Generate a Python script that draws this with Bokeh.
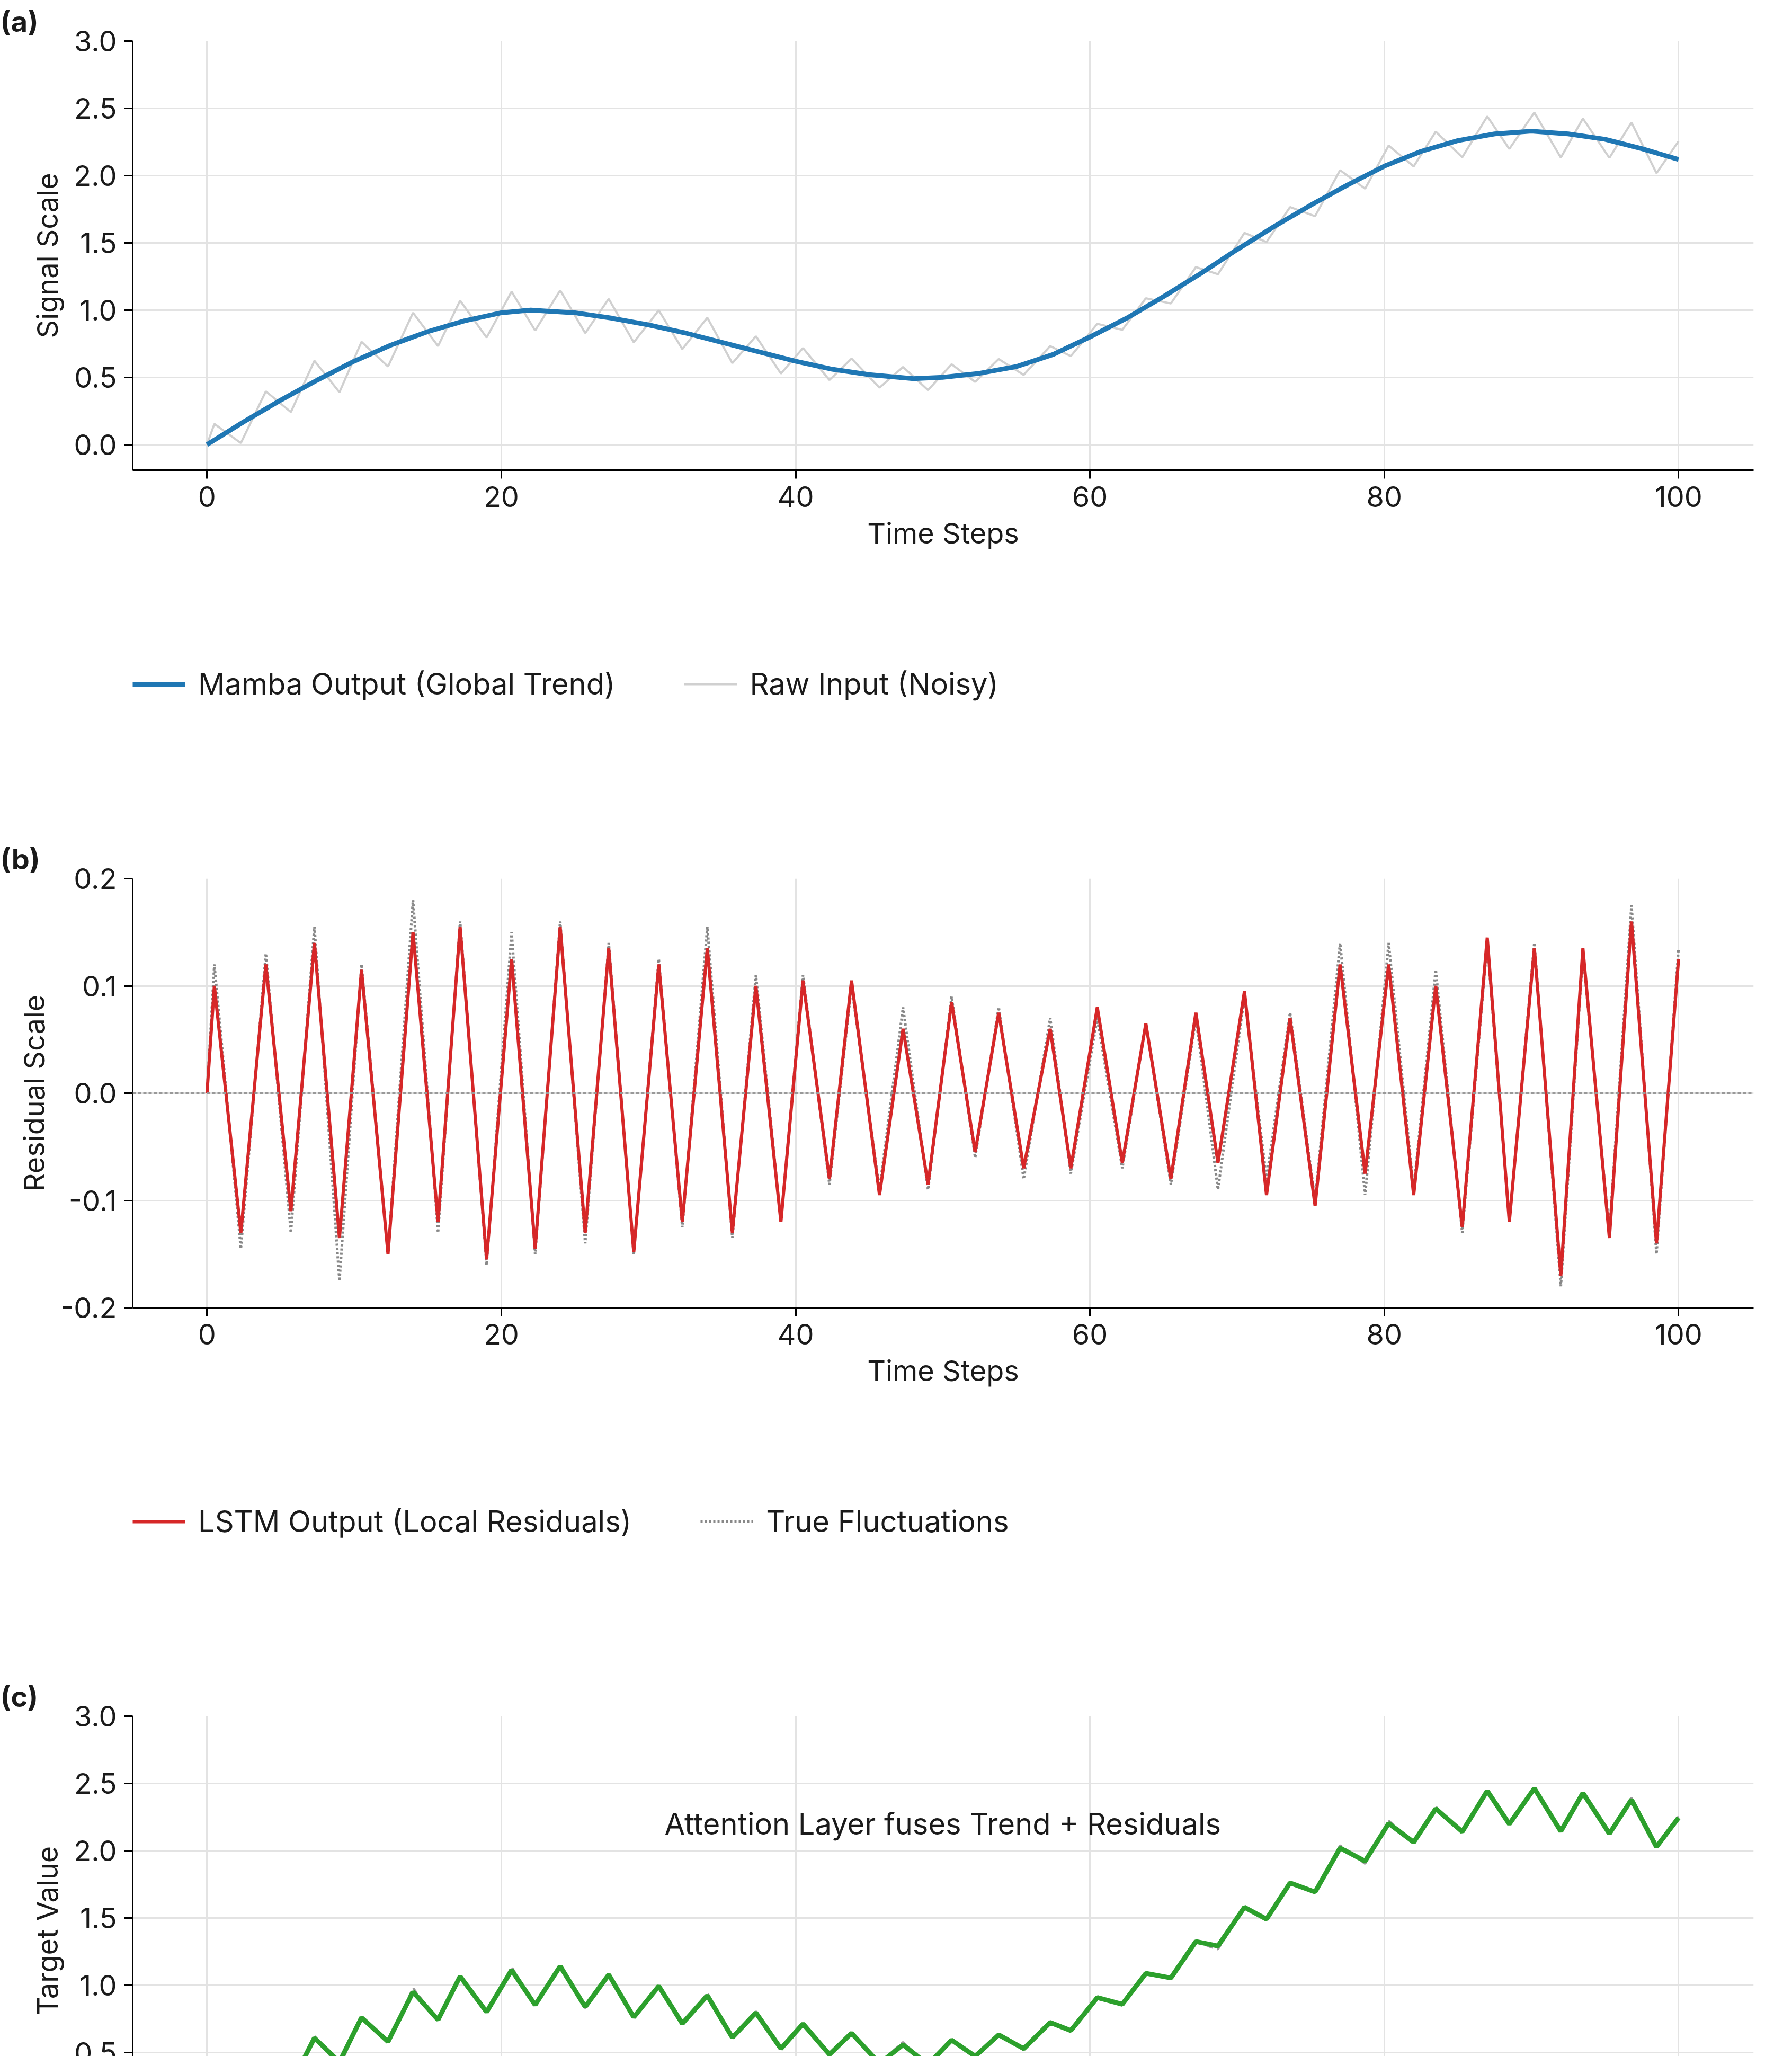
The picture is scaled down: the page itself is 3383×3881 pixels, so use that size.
import numpy as np
from bokeh.plotting import figure
from bokeh.layouts import column
from bokeh.models import Legend, LegendItem, Label, Range1d, Span, NumeralTickFormatter
from bokeh.embed import file_html
from bokeh.resources import INLINE

trend_t = [0, 2.5, 5, 7.5, 10, 12.5, 15, 17.5, 20, 22, 25, 27.5, 30, 32.5, 35, 37.5, 40, 42.5, 45, 48, 50, 52.5, 55, 57.5, 60, 62.5, 65, 67.5, 70, 72.5, 75, 77.5, 80, 82.5, 85, 87.5, 90, 92.5, 95, 97.5, 100]
trend_v = [0.0, 0.17, 0.33, 0.48, 0.62, 0.74, 0.84, 0.92, 0.98, 1.0, 0.98, 0.94, 0.89, 0.83, 0.76, 0.69, 0.62, 0.56, 0.52, 0.49, 0.50, 0.53, 0.58, 0.67, 0.80, 0.94, 1.10, 1.27, 1.45, 1.62, 1.78, 1.93, 2.07, 2.18, 2.26, 2.31, 2.33, 2.31, 2.27, 2.20, 2.12]

peak_t = [0.5, 4.0, 7.3, 10.5, 14.0, 17.2, 20.7, 24.0, 27.3, 30.7, 34.0, 37.3, 40.5, 43.8, 47.3, 50.6, 53.8, 57.3, 60.5, 63.8, 67.2, 70.5, 73.6, 77.0, 80.3, 83.5, 87.0, 90.2, 93.5, 96.8, 100.0]
lstm_peak = [0.10, 0.12, 0.14, 0.115, 0.15, 0.155, 0.125, 0.155, 0.135, 0.12, 0.135, 0.10, 0.105, 0.105, 0.06, 0.085, 0.075, 0.06, 0.08, 0.065, 0.075, 0.095, 0.07, 0.12, 0.12, 0.10, 0.145, 0.135, 0.135, 0.16, 0.125]
true_peak = [0.12, 0.13, 0.155, 0.12, 0.18, 0.16, 0.15, 0.16, 0.14, 0.125, 0.155, 0.11, 0.11, 0.10, 0.08, 0.09, 0.08, 0.07, 0.07, 0.065, 0.07, 0.09, 0.075, 0.14, 0.14, 0.115, 0.14, 0.14, 0.13, 0.175, 0.135]
trough_t = [2.3, 5.7, 9.0, 12.3, 15.7, 19.0, 22.3, 25.7, 29.0, 32.3, 35.7, 39.0, 42.3, 45.7, 49.0, 52.2, 55.5, 58.7, 62.2, 65.5, 68.7, 72.0, 75.3, 78.7, 82.0, 85.3, 88.5, 92.0, 95.3, 98.5]
lstm_trough = [-0.13, -0.11, -0.135, -0.15, -0.12, -0.155, -0.145, -0.13, -0.148, -0.12, -0.13, -0.12, -0.08, -0.095, -0.085, -0.055, -0.07, -0.07, -0.065, -0.08, -0.065, -0.095, -0.105, -0.075, -0.095, -0.125, -0.12, -0.17, -0.135, -0.14]
true_trough = [-0.145, -0.13, -0.175, -0.15, -0.13, -0.16, -0.15, -0.14, -0.15, -0.125, -0.135, -0.12, -0.085, -0.09, -0.09, -0.06, -0.08, -0.075, -0.07, -0.085, -0.09, -0.08, -0.10, -0.095, -0.09, -0.13, -0.12, -0.18, -0.13, -0.15]

def merge(pv, tv):
    pts = [(0.0, 0.0)] + list(zip(peak_t, pv)) + list(zip(trough_t, tv))
    pts.sort()
    return np.array([a for a, _ in pts]), np.array([b for _, b in pts])

rt, lstm = merge(lstm_peak, lstm_trough)
_, true_f = merge(true_peak, true_trough)
trend_at = np.interp(rt, trend_t, trend_v)
raw = trend_at + true_f
fused = trend_at + lstm

FONT = "Inter"
TXT = "#1a1a1a"

def make(title, ylab, yr, ticks, fmt):
    p = figure(frame_width=3060, frame_height=810, output_backend="svg", toolbar_location=None,
               x_range=Range1d(-5.05, 105.1), y_range=Range1d(*yr),
               min_border_left=250, min_border_right=20, min_border_top=20, min_border_bottom=10)
    p.title.text = title
    p.title.text_font = FONT
    p.title.text_font_size = "54px"
    p.title.text_font_style = "bold"
    p.title.text_color = TXT
    p.title.offset = -250
    p.xaxis.axis_label = "Time Steps"
    p.yaxis.axis_label = ylab
    for ax in (p.xaxis, p.yaxis):
        ax.axis_label_text_font = FONT
        ax.axis_label_text_font_size = "54px"
        ax.axis_label_text_font_style = "normal"
        ax.axis_label_text_color = TXT
        ax.major_label_text_font = FONT
        ax.major_label_text_font_size = "54px"
        ax.major_label_text_color = TXT
        ax.minor_tick_line_color = None
        ax.major_tick_out = 16
        ax.major_tick_in = 0
        ax.axis_line_width = 3
        ax.major_tick_line_width = 3
        ax.axis_label_standoff = 14
        ax.major_label_standoff = 14
    p.xaxis.ticker = [0, 20, 40, 60, 80, 100]
    p.yaxis.ticker = ticks
    p.yaxis.formatter = NumeralTickFormatter(format=fmt)
    p.grid.grid_line_color = "#e3e3e3"
    p.grid.grid_line_width = 3
    p.outline_line_color = None
    return p

def legend(p, items):
    lg = Legend(items=items, orientation="horizontal", location="top_left",
                label_text_font=FONT, label_text_font_size="56px", label_text_color=TXT,
                label_standoff=24, glyph_width=100, glyph_height=40, spacing=130,
                border_line_color=None, margin=0, padding=20)
    p.add_layout(lg, "below")

p1 = make("(a)", "Signal Scale", (-0.19, 3.0), [0, 0.5, 1, 1.5, 2, 2.5, 3], "0.0")
r_raw = p1.line(rt, raw, line_color="#d0d0d0", line_width=4)
r_tr = p1.line(trend_t, trend_v, line_color="#1f77b4", line_width=9)
legend(p1, [LegendItem(label="Mamba Output (Global Trend)", renderers=[r_tr]),
            LegendItem(label="Raw Input (Noisy)", renderers=[r_raw])])

p2 = make("(b)", "Residual Scale", (-0.2, 0.2), [-0.2, -0.1, 0, 0.1, 0.2], "0.0")
p2.add_layout(Span(location=0, dimension="width", line_color="#999999", line_dash="6 4", line_width=3))
r_tf = p2.line(rt, true_f, line_color="#888888", line_dash="4 4", line_width=5)
r_ls = p2.line(rt, lstm, line_color="#d62728", line_width=6)
legend(p2, [LegendItem(label="LSTM Output (Local Residuals)", renderers=[r_ls]),
            LegendItem(label="True Fluctuations", renderers=[r_tf])])

p3 = make("(c)", "Target Value", (-0.19, 3.0), [0, 0.5, 1, 1.5, 2, 2.5, 3], "0.0")
r_gt = p3.line(rt, raw, line_color="#999999", line_dash="12 8", line_width=4)
r_fu = p3.line(rt, fused, line_color="#2ca02c", line_width=9)
p3.add_layout(Label(x=50, y=2.2, text="Attention Layer fuses Trend + Residuals",
                    text_align="center", text_baseline="middle", text_font=FONT,
                    text_font_size="56px", text_color=TXT))
legend(p3, [LegendItem(label="MLA Final Prediction (Fused by Attention)", renderers=[r_fu]),
            LegendItem(label="Ground Truth", renderers=[r_gt])])

open("out.html", "w").write(file_html(column(p1, p2, p3, spacing=40), INLINE))
